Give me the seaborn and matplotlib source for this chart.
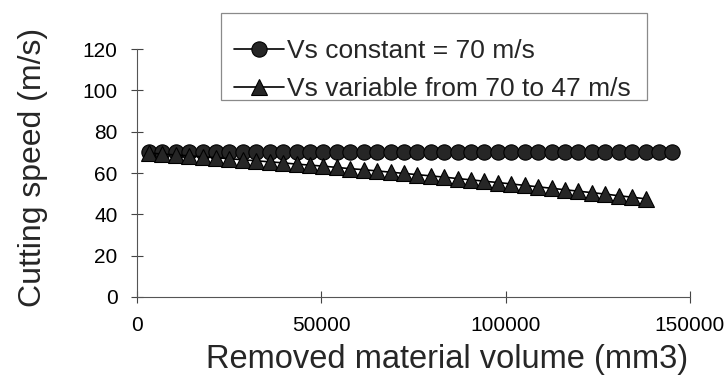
import numpy as np
import pandas as pd
import matplotlib
matplotlib.use("Agg")
import matplotlib.pyplot as plt
from matplotlib.patches import Rectangle
import seaborn as sns

# ---- data ----
volume_const = [3250, 6890, 10530, 14170, 17810, 21450, 25090, 28730, 32370, 36010,
                39650, 43290, 46930, 50570, 54210, 57850, 61490, 65130, 68770, 72410,
                76050, 79690, 83330, 86970, 90610, 94250, 97890, 101530, 105170, 108810,
                112450, 116090, 119730, 123370, 127010, 130650, 134290, 137930, 141570, 145210]
speed_const = [70, 70, 70, 70, 70, 70, 70, 70, 70, 70,
               70, 70, 70, 70, 70, 70, 70, 70, 70, 70,
               70, 70, 70, 70, 70, 70, 70, 70, 70, 70,
               70, 70, 70, 70, 70, 70, 70, 70, 70, 70]

volume_var = [3250, 6890, 10530, 14170, 17810, 21450, 25090, 28730, 32370, 36010,
              39650, 43290, 46930, 50570, 54210, 57850, 61490, 65130, 68770, 72410,
              76050, 79690, 83330, 86970, 90610, 94250, 97890, 101530, 105170, 108810,
              112450, 116090, 119730, 123370, 127010, 130650, 134290, 137930]
speed_var = [69.6, 69.2, 68.7, 68.3, 67.8, 67.4, 66.9, 66.4, 65.9, 65.4,
             64.9, 64.3, 63.8, 63.3, 62.7, 62.1, 61.6, 61.0, 60.4, 59.8,
             59.2, 58.6, 58.0, 57.3, 56.7, 56.0, 55.4, 54.7, 54.0, 53.3,
             52.6, 51.9, 51.2, 50.5, 49.8, 49.0, 48.3, 47.5]

label_const = "Vs constant = 70 m/s"
label_var = "Vs variable from 70 to 47 m/s"
x_ticks = [0, 50000, 100000, 150000]
y_ticks = [0, 20, 40, 60, 80, 100, 120]
x_label = "Removed material volume (mm3)"
y_label = "Cutting speed (m/s)"

sns.set_style("ticks")
plt.rcParams['font.family'] = ['Liberation Sans', 'DejaVu Sans']

fig = plt.figure(figsize=(7.26, 3.87), dpi=100)
ax = fig.add_axes([137/726, 1 - 297/387, 553/726, 248/387])

df_c = pd.DataFrame({"x": volume_const, "y": speed_const})
df_v = pd.DataFrame({"x": volume_var, "y": speed_var})

sns.lineplot(data=df_c, x="x", y="y", ax=ax, color="black", linewidth=1.2,
             marker="o", markersize=11, markerfacecolor="#262626",
             markeredgecolor="black", markeredgewidth=0.8, label=label_const)
sns.lineplot(data=df_v, x="x", y="y", ax=ax, color="black", linewidth=1.2,
             marker="^", markersize=11, markerfacecolor="#262626",
             markeredgecolor="black", markeredgewidth=0.8, label=label_var)

ax.set_xlim(0, 150000)
ax.set_ylim(0, 120)
ax.set_xticks(x_ticks)
ax.set_yticks(y_ticks)
ax.set_xticklabels([str(t) for t in x_ticks])
ax.set_yticklabels([str(t) for t in y_ticks])
ax.tick_params(axis="both", direction="inout", length=8, width=0.8,
               colors="#444444", labelcolor="black", labelsize=15, pad=10)

for s in ["top", "right"]:
    ax.spines[s].set_visible(False)
for s in ["left", "bottom"]:
    ax.spines[s].set_color("#555555")
    ax.spines[s].set_linewidth(0.8)

ax.set_xlabel(x_label, fontsize=23.5, labelpad=6)
ax.xaxis.label.set_x(0.56)
ax.set_ylabel(y_label, fontsize=23, labelpad=25)
ax.yaxis.label.set_y(0.524)

# legend frame drawn as a plain box
fig.patches.append(Rectangle((221/726, 1 - 100/387), 426/726, 87/387,
                             transform=fig.transFigure, fill=False,
                             edgecolor="#8a8a8a", linewidth=0.9, zorder=5))
leg = ax.legend(loc="upper left", bbox_to_anchor=(221/726, 1 - 26/387),
                bbox_transform=fig.transFigure, frameon=False, fontsize=19,
                handlelength=1.9, handletextpad=0.1, borderpad=0.5,
                labelspacing=0.54, borderaxespad=0)

fig.savefig("out.png", dpi=100)
